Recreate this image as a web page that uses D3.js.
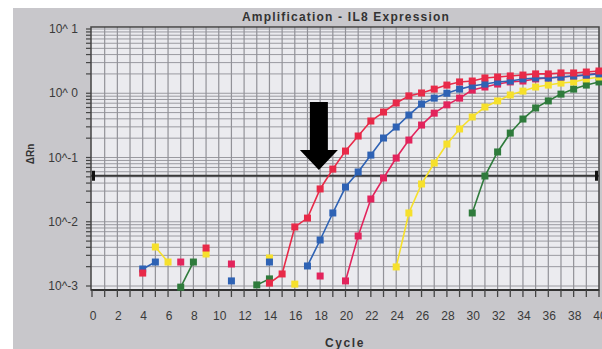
<!DOCTYPE html>
<html>
<head>
<meta charset="utf-8">
<script src="https://cdn.jsdelivr.net/npm/d3@7"></script>
<style>
  body { margin: 0; background: #fff; }
  svg { display: block; font-family: "Liberation Sans", Arial, sans-serif; }
</style>
</head>
<body>
<script>
// Data: [cycle, ΔRn]; missing cycles break the line
const red = [[4, 0.00159], [9, 0.0039], [14, 0.00111], [15, 0.00154], [16, 0.0083], [17, 0.0114], [18, 0.0324], [19, 0.066], [20, 0.126], [21, 0.216], [22, 0.37], [23, 0.51], [24, 0.705], [25, 0.91], [26, 1.01], [27, 1.16], [28, 1.34], [29, 1.50], [30, 1.55], [31, 1.73], [32, 1.79], [33, 1.86], [34, 1.92], [35, 2.0], [36, 2.0], [37, 2.07], [38, 2.07], [39, 2.14], [40, 2.22]];
const blue = [[4, 0.00184], [5, 0.00236], [11, 0.0012], [14, 0.00236], [17, 0.00205], [18, 0.0052], [19, 0.0137], [20, 0.0347], [21, 0.0595], [22, 0.109], [23, 0.201], [24, 0.298], [25, 0.458], [26, 0.68], [27, 0.84], [28, 1.0], [29, 1.16], [30, 1.30], [31, 1.39], [32, 1.50], [33, 1.55], [34, 1.67], [35, 1.73], [36, 1.73], [37, 1.79], [38, 1.86], [39, 1.92], [40, 2.0]];
const crimson = [[7, 0.00236], [11, 0.0022], [18, 0.00143], [20, 0.0012], [21, 0.006], [22, 0.0226], [23, 0.048], [24, 0.098], [25, 0.187], [26, 0.32], [27, 0.49], [28, 0.66], [29, 0.84], [30, 1.12], [31, 1.25], [32, 1.39], [33, 1.50], [34, 1.55], [35, 1.67], [36, 1.73], [37, 1.79], [38, 1.86], [39, 1.92], [40, 2.07]];
const yellow = [[5, 0.00405], [6, 0.00236], [9, 0.00315], [14, 0.00273], [16, 0.00107], [24, 0.00198], [25, 0.0137], [26, 0.0387], [27, 0.082], [28, 0.162], [29, 0.278], [30, 0.427], [31, 0.61], [32, 0.76], [33, 0.94], [34, 1.08], [35, 1.25], [36, 1.34], [37, 1.44], [38, 1.50], [39, 1.67], [40, 1.79]];
const green = [[7, 0.00096], [8, 0.00236], [13, 0.00104], [14, 0.00129], [30, 0.0137], [31, 0.0515], [32, 0.122], [33, 0.24], [34, 0.397], [35, 0.59], [36, 0.76], [37, 0.97], [38, 1.16], [39, 1.34], [40, 1.50]];

const threshold = 0.052;
const arrowCycle = 17.9;   // where the annotation arrow points
const xTickLabels = [0, 2, 4, 6, 8, 10, 12, 14, 16, 18, 20, 22, 24, 26, 28, 30, 32, 34, 36, 38, 40];
const yTickValues = [10, 1, 0.1, 0.01, 0.001];
const yTickLabels = ["10^ 1", "10^ 0", "10^-1", "10^-2", "10^-3"];

// drawing order: later series sit on top
const series = [
  { data: green, color: "#2f7b3c" },
  { data: yellow, color: "#f6e02c" },
  { data: crimson, color: "#e2245c" },
  { data: blue, color: "#2e62b4" },
  { data: red, color: "#e82a48" }
];

const W = 602, H = 349;
const svg = d3.select("body").append("svg").attr("width", W).attr("height", H);

// panel background
svg.append("rect").attr("x", 13).attr("y", 8).attr("width", W - 13).attr("height", H - 8).attr("fill", "#c8c7cb");

const x = d3.scaleLinear().domain([0, 40]).range([92, 599]);
const y = d3.scaleLog().domain([0.001, 10]).range([286, 29]);

const plotTop = 27, plotBottom = 290, plotLeft = 91, plotRight = 599;

svg.append("rect")
  .attr("x", plotLeft).attr("y", plotTop)
  .attr("width", plotRight - plotLeft).attr("height", plotBottom - plotTop)
  .attr("fill", "#ebebef");

// horizontal log grid
const yGrid = [];
[0.001, 0.01, 0.1, 1].forEach(d => { for (let k = 1; k <= 9; k++) yGrid.push(d * k); });
yGrid.push(10);
svg.append("g").selectAll("line").data(yGrid).join("line")
  .attr("x1", plotLeft).attr("x2", plotRight)
  .attr("y1", d => y(d)).attr("y2", d => y(d))
  .attr("stroke", "#9a9aa0").attr("stroke-width", 1);

// vertical grid, every cycle
svg.append("g").selectAll("line").data(d3.range(1, 40)).join("line")
  .attr("x1", d => x(d)).attr("x2", d => x(d))
  .attr("y1", plotTop).attr("y2", plotBottom)
  .attr("stroke", "#929298").attr("stroke-width", 1.2);

// frame
svg.append("rect")
  .attr("x", plotLeft).attr("y", plotTop)
  .attr("width", plotRight - plotLeft).attr("height", plotBottom - plotTop)
  .attr("fill", "none").attr("stroke", "#444").attr("stroke-width", 1.5);

// y axis ticks
svg.append("g").selectAll("line").data(yGrid).join("line")
  .attr("x1", plotLeft - 5).attr("x2", plotLeft)
  .attr("y1", d => y(d)).attr("y2", d => y(d))
  .attr("stroke", "#444").attr("stroke-width", 1.2);

svg.append("g").selectAll("text").data(yTickValues).join("text")
  .attr("x", 78).attr("y", d => y(d) + 4)
  .attr("text-anchor", "end")
  .attr("font-size", 12).attr("fill", "#3a3a3a")
  .text((d, i) => yTickLabels[i]);

// x axis
svg.append("line").attr("x1", plotLeft).attr("x2", plotRight)
  .attr("y1", plotBottom).attr("y2", plotBottom)
  .attr("stroke", "#333").attr("stroke-width", 2);
svg.append("g").selectAll("line").data(d3.range(0, 41)).join("line")
  .attr("x1", d => x(d)).attr("x2", d => x(d))
  .attr("y1", plotBottom).attr("y2", plotBottom + 7)
  .attr("stroke", "#444").attr("stroke-width", 1.3);
svg.append("g").selectAll("text").data(xTickLabels).join("text")
  .attr("x", d => x(d) + 1).attr("y", 320)
  .attr("text-anchor", "middle")
  .attr("font-size", 12).attr("fill", "#3a3a3a")
  .text(d => d);

// titles
svg.append("text").attr("x", 346).attr("y", 21)
  .attr("text-anchor", "middle").attr("font-size", 12)
  .attr("letter-spacing", 1.2).attr("fill", "#333").attr("font-weight", 600)
  .text("Amplification - IL8 Expression");
svg.append("text").attr("x", 345).attr("y", 347)
  .attr("text-anchor", "middle").attr("font-size", 12)
  .attr("letter-spacing", 1.6).attr("fill", "#333").attr("font-weight", "bold")
  .text("Cycle");
svg.append("text").attr("transform", "translate(34,154) rotate(-90)")
  .attr("text-anchor", "middle").attr("font-size", 10)
  .attr("fill", "#333").attr("font-weight", "bold")
  .text("ΔRn");

// threshold
svg.append("line").attr("x1", plotLeft).attr("x2", plotRight)
  .attr("y1", y(threshold)).attr("y2", y(threshold))
  .attr("stroke", "#3a3a3a").attr("stroke-width", 2);
[plotLeft + 1, plotRight - 4].forEach(px => {
  svg.append("rect").attr("x", px).attr("y", y(threshold) - 5)
    .attr("width", 3).attr("height", 10).attr("fill", "#111");
});

// series lines and markers
const line = d3.line()
  .defined((d, i, arr) => true)
  .x(d => x(d[0])).y(d => y(d[1]));

series.forEach(s => {
  // split into runs of consecutive cycles
  const runs = [];
  s.data.forEach((d, i) => {
    if (i > 0 && d[0] === s.data[i - 1][0] + 1) runs[runs.length - 1].push(d);
    else runs.push([d]);
  });
  const g = svg.append("g");
  g.selectAll("path").data(runs.filter(r => r.length > 1)).join("path")
    .attr("d", line)
    .attr("fill", "none").attr("stroke", s.color).attr("stroke-width", 1.6);
  g.selectAll("rect").data(s.data).join("rect")
    .attr("x", d => x(d[0]) - 3.5).attr("y", d => y(d[1]) - 3.5)
    .attr("width", 7).attr("height", 7)
    .attr("fill", s.color);
});

// annotation arrow
const ax = x(arrowCycle), tip = y(0.064);
svg.append("path")
  .attr("d", `M${ax - 9},${tip - 68} L${ax + 9},${tip - 68} L${ax + 9},${tip - 20} L${ax + 19},${tip - 20} L${ax},${tip} L${ax - 19},${tip - 20} L${ax - 9},${tip - 20} Z`)
  .attr("fill", "#000");
</script>
</body>
</html>
